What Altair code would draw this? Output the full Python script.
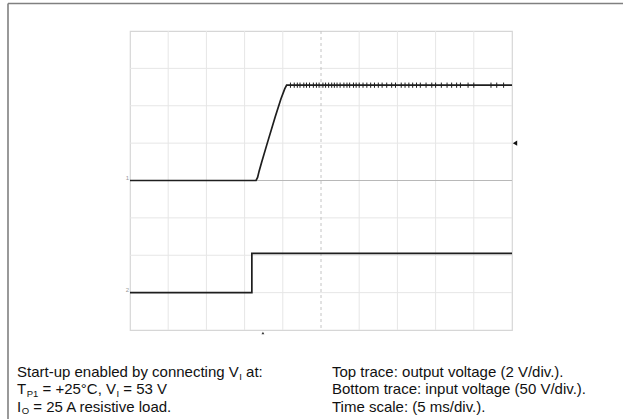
import altair as alt
import pandas as pd

# ---- data (divisions: x 0..10, y 0..8 from bottom) ----
top_t = [0.0, 1.0, 2.0, 3.0, 3.30, 3.34, 3.38, 3.45, 3.60, 3.80, 3.95, 4.05, 4.10, 5.0, 6.0, 7.0, 8.0, 9.0, 10.0]
top_v = [4.0, 4.0, 4.0, 4.0, 4.0, 4.08, 4.25, 4.50, 5.02, 5.70, 6.18, 6.45, 6.55, 6.55, 6.55, 6.55, 6.55, 6.55, 6.55]
bot_t = [0.0, 1.0, 2.0, 3.0, 3.19, 3.19, 4.0, 5.0, 6.0, 7.0, 8.0, 9.0, 10.0]
bot_v = [1.0, 1.0, 1.0, 1.0, 1.0, 2.05, 2.05, 2.05, 2.05, 2.05, 2.05, 2.05, 2.05]
spike_t = [4.2, 4.3, 4.38, 4.45, 4.55, 4.62, 4.7, 4.8, 4.88, 4.95, 5.05, 5.12, 5.2,
           5.28, 5.35, 5.42, 5.5, 5.6, 5.68, 5.75, 5.85, 5.92, 6.0, 6.1, 6.2, 6.3,
           6.4, 6.5, 6.6, 6.72, 6.85, 6.95, 7.1, 7.2, 7.3, 7.4, 7.5, 7.6, 7.75, 7.9,
           8.0, 8.15, 8.3, 8.42, 8.55, 8.65, 8.85, 9.0, 9.45, 9.6, 9.78]
spike_level = 6.55
grid_x = [1, 2, 3, 4, 6, 7, 8, 9]
grid_y = [1, 2, 3, 5, 6, 7]
center_x = [5]
center_y = [4]

left_lines = [
    [("Start-up enabled by connecting V", False), ("I", True), (" at:", False)],
    [("T", False), ("P1", True), (" = +25°C, V", False), ("I", True), (" = 53 V", False)],
    [("I", False), ("O", True), (" = 25 A resistive load.", False)],
]
right_lines = [
    "Top trace: output voltage (2 V/div.).",
    "Bottom trace: input voltage (50 V/div.).",
    "Time scale: (5 ms/div.).",
]

# ---- layout ----
W, H = 382, 299
PL, PT = 130, 31
FONT = "Liberation Sans"
FS = 15
SUB = 9.5
line_base = [377, 394, 411.5]

AW = {' ': 278, 'S': 667, 't': 278, 'a': 556, 'r': 333, '-': 333, 'u': 556, 'p': 556,
      'e': 556, 'n': 556, 'b': 556, 'l': 222, 'd': 556, 'y': 500, 'c': 500, 'o': 556,
      'i': 222, 'g': 556, 'V': 667, ':': 278, 'T': 611, 'P': 667, '1': 556, '=': 584,
      '+': 584, '2': 556, '5': 556, '°': 400, 'C': 722, ',': 278, '3': 556, 'I': 278,
      'O': 778, 'A': 667, 's': 500, 'v': 500, '.': 278}

def tw(s, size):
    return sum(AW.get(ch, 556) for ch in s) * size / 1000.0

xs = alt.Scale(domain=[0, 10], nice=False, zero=False)
ys = alt.Scale(domain=[0, 8], nice=False, zero=False)

layers = []

# grid
layers.append(alt.Chart(pd.DataFrame({"g": grid_x})).mark_rule(color="#e6e6e6", strokeWidth=1)
              .encode(x=alt.X("g:Q", scale=xs, axis=None)))
layers.append(alt.Chart(pd.DataFrame({"g": grid_y})).mark_rule(color="#e6e6e6", strokeWidth=1)
              .encode(y=alt.Y("g:Q", scale=ys, axis=None)))
layers.append(alt.Chart(pd.DataFrame({"g": center_x})).mark_rule(color="#c4c4c4", strokeWidth=1, strokeDash=[3, 3])
              .encode(x=alt.X("g:Q", scale=xs, axis=None)))
layers.append(alt.Chart(pd.DataFrame({"g": center_y})).mark_rule(color="#b8b8b8", strokeWidth=1)
              .encode(y=alt.Y("g:Q", scale=ys, axis=None)))

# traces
top_df = pd.DataFrame({"t": top_t, "v": top_v, "o": range(len(top_t))})
bot_df = pd.DataFrame({"t": bot_t, "v": bot_v, "o": range(len(bot_t))})
layers.append(alt.Chart(top_df).mark_line(color="#1e1e1e", strokeWidth=1.7)
              .encode(x=alt.X("t:Q", scale=xs, axis=None), y=alt.Y("v:Q", scale=ys, axis=None), order="o:Q"))
layers.append(alt.Chart(bot_df).mark_line(color="#1e1e1e", strokeWidth=1.7)
              .encode(x=alt.X("t:Q", scale=xs, axis=None), y=alt.Y("v:Q", scale=ys, axis=None), order="o:Q"))
sp_df = pd.DataFrame({"t": spike_t, "lo": [spike_level - 0.07] * len(spike_t), "hi": [spike_level + 0.07] * len(spike_t)})
layers.append(alt.Chart(sp_df).mark_rule(color="#1e1e1e", strokeWidth=1.0)
              .encode(x=alt.X("t:Q", scale=xs, axis=None), y=alt.Y("lo:Q", scale=ys, axis=None), y2="hi:Q"))

# markers
layers.append(alt.Chart(pd.DataFrame({"v": [5.0]})).mark_point(shape="triangle-left", filled=True, color="#111", size=26, opacity=1)
              .encode(x=alt.value(W + 3), y=alt.Y("v:Q", scale=ys, axis=None)))
layers.append(alt.Chart(pd.DataFrame({"t": [3.48]})).mark_point(shape="triangle-up", filled=True, color="#333", size=8, opacity=1)
              .encode(x=alt.X("t:Q", scale=xs, axis=None), y=alt.value(H + 3)))
layers.append(alt.Chart(pd.DataFrame({"v": [4.06, 1.06], "s": ["1", "2"]})).mark_text(font=FONT, fontSize=6, color="#999", align="right", baseline="middle")
              .encode(x=alt.value(-1), y=alt.Y("v:Q", scale=ys, axis=None), text="s:N"))

# outer border
layers.append(alt.Chart(pd.DataFrame({"a": [0]})).mark_rule(color="#808080", strokeWidth=1.6)
              .encode(x=alt.value(8 - PL), y=alt.value(3.5 - PT), y2=alt.value(419 - PT + 2)))
layers.append(alt.Chart(pd.DataFrame({"a": [0]})).mark_rule(color="#808080", strokeWidth=1.6)
              .encode(x=alt.value(8 - PL), x2=alt.value(623 - PL + 2), y=alt.value(3.5 - PT)))

# caption text (left, with subscripts); Vega trims text, so leading spaces become offsets
rows = []
for i, line in enumerate(left_lines):
    x = 17.0
    for seg, sub in line:
        size = SUB if sub else FS
        if sub:
            x += 0.5
        lead = len(seg) - len(seg.lstrip(" "))
        x += tw(" " * lead, size)
        body = seg.lstrip(" ")
        rows.append({"x": x - PL, "y": line_base[i] - PT + (2.5 if sub else 0), "s": body, "size": size})
        x += tw(body, size)
for i, s in enumerate(right_lines):
    rows.append({"x": 332 - PL, "y": line_base[i] - PT, "s": s, "size": FS})
cap = pd.DataFrame(rows)
layers.append(alt.Chart(cap).mark_text(font=FONT, color="#111", align="left", baseline="alphabetic")
              .encode(x=alt.X("x:Q", scale=None), y=alt.Y("y:Q", scale=None), text="s:N",
                      size=alt.Size("size:Q", scale=None, legend=None)))

chart = alt.layer(*layers).properties(
    width=W, height=H,
    padding={"left": PL, "top": PT, "right": 623 - PL - W, "bottom": 419 - PT - H},
    autosize=alt.AutoSizeParams(type="none"),
).configure_view(stroke="#d6d6d6", strokeWidth=1.2)

chart.save("out.html", embed_options={"renderer": "svg", "actions": False})
